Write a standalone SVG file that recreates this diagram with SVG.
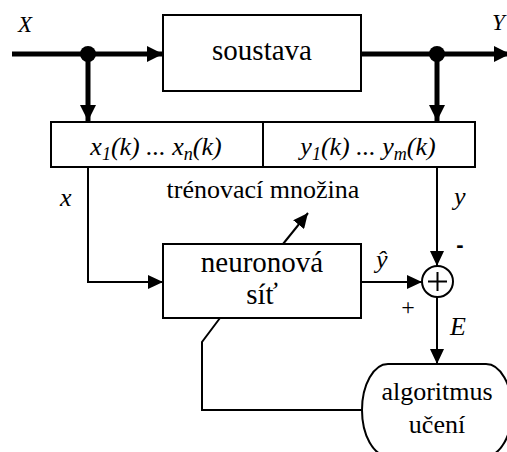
<svg xmlns="http://www.w3.org/2000/svg" width="507" height="452" viewBox="0 0 507 452">
  <defs>
    <marker id="headBig" markerWidth="16" markerHeight="16" refX="16" refY="8" orient="auto" markerUnits="userSpaceOnUse">
      <path d="M0,0 L16,8 L0,16 Z" fill="#000"/>
    </marker>
    <marker id="head" markerWidth="15" markerHeight="14" refX="15" refY="7" orient="auto" markerUnits="userSpaceOnUse">
      <path d="M0,0 L15,7 L0,14 Z" fill="#000"/>
    </marker>
  </defs>
  <style>
    .box { fill: #fff; stroke: #000; stroke-width: 2; }
    .thick { fill: none; stroke: #000; stroke-width: 5; }
    .thin { fill: none; stroke: #000; stroke-width: 2; }
    .lbl { text-anchor: middle; }
    .it { font-style: italic; }
  </style>

  <rect width="507" height="452" fill="#fff"/>

  <!-- connectors -->
  <g id="connectors">
    <!-- input / output signal lines with branch points -->
    <line class="thick" x1="12" y1="54" x2="163" y2="54" marker-end="url(#headBig)"/>
    <line class="thick" x1="361" y1="54" x2="510" y2="54" marker-end="url(#headBig)"/>
    <line class="thick" x1="88" y1="54" x2="88" y2="121" marker-end="url(#headBig)"/>
    <line class="thick" x1="437" y1="54" x2="437" y2="121" marker-end="url(#headBig)"/>
    <circle cx="88" cy="54" r="8" fill="#000"/>
    <circle cx="437" cy="54" r="8" fill="#000"/>
    <!-- training pairs to the network and the comparator -->
    <polyline class="thin" points="88,167 88,282 163,282" marker-end="url(#head)"/>
    <line class="thin" x1="437" y1="167" x2="437" y2="266" marker-end="url(#head)"/>
    <line class="thin" x1="361" y1="282" x2="422" y2="282" marker-end="url(#head)"/>
    <line class="thin" x1="437" y1="297" x2="437" y2="364" marker-end="url(#head)"/>
    <line class="thin" x1="283" y1="244" x2="308" y2="213" marker-end="url(#head)"/>
    <!-- weight adjustment back to the network -->
    <polyline class="thin" points="362,410 202,410 202,342 220,318"/>
  </g>

  <g fill="#000" font-family="Liberation Serif, Times New Roman, serif">
    <g id="soustava">
      <rect class="box" x="163" y="15" width="198" height="76"/>
      <text class="lbl" x="262" y="60" font-size="29">soustava</text>
    </g>

    <g id="mnozina">
      <rect class="box" x="51" y="122" width="424" height="45"/>
      <line class="thin" x1="263" y1="122" x2="263" y2="167"/>
      <text class="lbl it" x="156" y="155" font-size="26">x<tspan font-size="18" dy="5">1</tspan><tspan dy="-5">(k) ... x</tspan><tspan font-size="18" dy="5">n</tspan><tspan dy="-5">(k)</tspan></text>
      <text class="lbl it" x="368" y="155" font-size="26">y<tspan font-size="18" dy="5">1</tspan><tspan dy="-5">(k) ... y</tspan><tspan font-size="18" dy="5">m</tspan><tspan dy="-5">(k)</tspan></text>
    </g>

    <g id="sit">
      <rect class="box" x="163" y="244" width="198" height="74"/>
      <text class="lbl" x="262" y="272" font-size="29">neuronová</text>
      <text class="lbl" x="262" y="304" font-size="29">síť</text>
    </g>

    <g id="soucet">
      <circle class="thin" cx="437.5" cy="281.5" r="15.5" fill="#fff"/>
      <line class="thin" x1="428" y1="281.5" x2="447" y2="281.5"/>
      <line class="thin" x1="437.5" y1="272" x2="437.5" y2="291"/>
    </g>

    <g id="algoritmus">
      <rect class="box" x="362" y="364" width="150" height="92" rx="26" ry="46"/>
      <text class="lbl" x="437" y="400" font-size="26">algoritmus</text>
      <text class="lbl" x="437" y="433" font-size="26">učení</text>
    </g>

    <!-- signal names and signs -->
    <g id="labels">
      <text class="it" x="18" y="32" font-size="23">X</text>
      <text class="it" x="492" y="30" font-size="23">Y</text>
      <text class="it" x="60" y="206" font-size="26">x</text>
      <text class="it" x="454" y="205" font-size="26">y</text>
      <text class="lbl" x="263" y="198" font-size="26">trénovací množina</text>
      <text class="it" x="376" y="268" font-size="26">ŷ</text>
      <text class="lbl" x="408" y="315" font-size="24">+</text>
      <text class="lbl" x="460" y="252" font-size="22" font-family="Liberation Sans, Arial, sans-serif" font-weight="bold">-</text>
      <text class="it" x="450" y="335" font-size="26">E</text>
    </g>
  </g>
</svg>
